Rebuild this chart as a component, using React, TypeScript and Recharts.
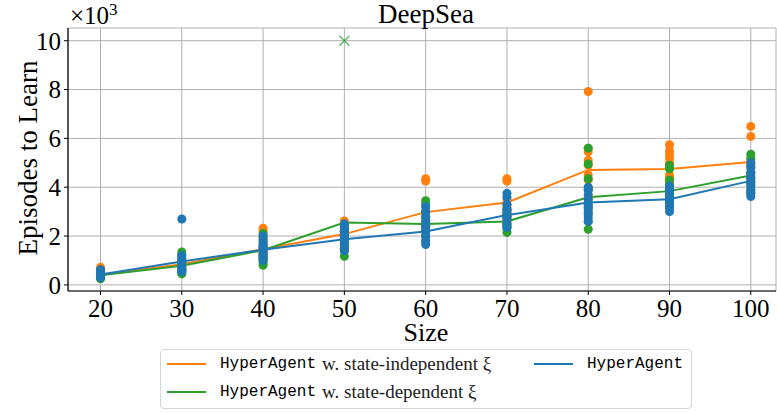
import { ComposedChart, Scatter, Line, XAxis, YAxis, CartesianGrid } from "recharts";

// DeepSea: episodes to learn (in thousands) vs. chain size
const sizes = [20, 30, 40, 50, 60, 70, 80, 90, 100];
const xTicks = [20, 30, 40, 50, 60, 70, 80, 90, 100];
const yTicks = [0, 2, 4, 6, 8, 10];

// mean curves
const indepMean = [0.42, 0.85, 1.46, 2.08, 2.98, 3.37, 4.71, 4.75, 5.03];
const depMean = [0.39, 0.78, 1.42, 2.55, 2.49, 2.6, 3.59, 3.84, 4.48];
const hyperMean = [0.43, 0.96, 1.44, 1.87, 2.19, 2.86, 3.37, 3.51, 4.26];

// individual seeds, one row per size
const indepRuns = [
  [0.72, 0.62, 0.52, 0.46, 0.4, 0.35, 0.3, 0.5, 0.42, 0.38],
  [1.1, 1.0, 0.92, 0.85, 0.8, 0.75, 0.7, 0.65, 0.9, 0.82],
  [2.32, 2.2, 1.9, 1.7, 1.5, 1.4, 1.3, 1.2, 1.6, 1.1],
  [2.62, 2.5, 2.3, 2.1, 1.9, 1.7, 1.5, 2.0, 2.2, 1.6],
  [4.35, 4.25, 2.8, 2.6, 2.4, 3.0, 2.2, 2.0, 2.5, 2.7],
  [4.35, 4.25, 3.5, 3.2, 3.0, 2.8, 3.3, 2.6, 3.1, 2.9],
  [7.92, 5.6, 5.45, 5.1, 4.3, 4.9, 3.6, 3.9, 4.5, 4.0],
  [5.74, 5.5, 5.35, 5.2, 4.5, 4.8, 4.4, 4.2, 4.0, 5.0],
  [6.49, 6.08, 5.15, 5.0, 4.8, 4.6, 4.4, 4.2, 3.9, 4.9],
];
const depRuns = [
  [0.25, 0.3, 0.35, 0.4, 0.45, 0.5, 0.55, 0.38, 0.42, 0.33],
  [1.35, 1.25, 0.45, 0.5, 0.6, 0.7, 0.8, 0.9, 0.65, 0.55],
  [2.1, 2.0, 1.8, 0.8, 0.9, 1.0, 1.2, 1.4, 1.6, 1.1],
  [2.45, 2.3, 1.17, 1.5, 1.8, 2.0, 2.2, 1.6, 1.4, 1.9],
  [3.45, 3.3, 3.0, 2.8, 2.6, 2.4, 2.2, 2.0, 1.8, 2.5],
  [3.1, 2.9, 2.7, 2.5, 2.4, 2.3, 2.15, 2.6, 2.8, 2.45],
  [5.6, 4.95, 4.35, 3.9, 3.5, 3.2, 2.9, 2.6, 2.28, 3.0],
  [4.9, 4.75, 4.3, 4.1, 3.9, 3.7, 3.5, 3.4, 3.3, 3.6],
  [5.35, 5.2, 4.9, 4.6, 4.4, 4.2, 3.82, 3.75, 4.1, 4.5],
];
const hyperRuns = [
  [0.3, 0.35, 0.4, 0.45, 0.5, 0.55, 0.6, 0.62, 0.42, 0.48],
  [2.7, 1.2, 1.1, 1.0, 0.9, 0.8, 0.7, 0.6, 0.55, 0.95],
  [2.0, 1.85, 1.7, 1.55, 1.4, 1.3, 1.2, 1.1, 1.0, 1.5],
  [2.5, 2.35, 2.2, 2.0, 1.85, 1.7, 1.55, 1.4, 1.9, 2.1],
  [3.2, 3.0, 2.8, 2.6, 2.4, 2.2, 2.0, 1.8, 1.65, 2.3],
  [3.75, 3.6, 3.3, 3.1, 2.9, 2.7, 2.5, 2.35, 2.8, 3.0],
  [4.0, 3.9, 3.7, 3.5, 3.3, 3.1, 2.9, 2.75, 2.6, 3.2],
  [4.05, 3.9, 3.75, 3.6, 3.45, 3.3, 3.15, 3.0, 3.5, 3.2],
  [5.0, 4.8, 4.6, 4.4, 4.2, 4.05, 3.9, 3.75, 3.62, 4.3],
];
// run that never learned (capped at 10k)
const depFailed = [{ size: 50, v: 10 }];

const ORANGE = "#ff7f0e";
const GREEN = "#2ca02c";
const BLUE = "#1f77b4";
const SERIF = "'Liberation Serif', 'DejaVu Serif', serif";
const MONO = "'Liberation Mono', 'DejaVu Sans Mono', monospace";

const toPoints = (runs: number[][]) =>
  sizes.flatMap((s, i) => runs[i].map((v) => ({ size: s, v })));

const lineData = sizes.map((s, i) => ({
  size: s,
  indep: indepMean[i],
  dep: depMean[i],
  hyper: hyperMean[i],
}));

const dot = (color: string) => (p: any) => <circle cx={p.cx} cy={p.cy} r={4.5} fill={color} />;

const cross = (p: any) => (
  <g stroke={GREEN} strokeOpacity={0.8} strokeWidth={1.3}>
    <line x1={p.cx - 5} y1={p.cy - 5} x2={p.cx + 5} y2={p.cy + 5} />
    <line x1={p.cx - 5} y1={p.cy + 5} x2={p.cx + 5} y2={p.cy - 5} />
  </g>
);

const tickStyle = { fontFamily: SERIF, fontSize: 25, fill: "#000" };

function LegendItem({ color, left, top, text }: { color: string; left: number; top: number; text: string }) {
  return (
    <div style={{ position: "absolute", left, top, height: 24, display: "flex", alignItems: "center", whiteSpace: "nowrap" }}>
      <div style={{ width: 39, height: 2, background: color, marginRight: 14 }} />
      <span style={{ fontFamily: MONO, fontSize: 16 }}>HyperAgent</span>
      {text && <span style={{ fontFamily: SERIF, fontSize: 19, marginLeft: 6, color: "#222" }}>{text}</span>}
    </div>
  );
}

export default function App() {
  return (
    <div
      style={{
        position: "relative",
        width: 777,
        height: 413,
        overflow: "hidden",
        background: "#fff",
        color: "#000",
      }}
    >
      <style>{`html, body { margin: 0; padding: 0; overflow: hidden; }`}</style>
      <ComposedChart
        width={777}
        height={413}
        data={lineData}
        margin={{ top: 28, right: 1, bottom: 82, left: 8 }}
      >
        <CartesianGrid stroke="#b0b0b0" strokeWidth={1} />
        <XAxis
          dataKey="size"
          type="number"
          domain={[16, 103.1]}
          ticks={xTicks}
          allowDataOverflow
          height={40}
          tick={tickStyle}
          tickSize={4}
          tickMargin={4}
          axisLine={{ stroke: "#000", strokeWidth: 1.2 }}
          tickLine={{ stroke: "#000" }}
        />
        <XAxis
          xAxisId="top"
          orientation="top"
          type="number"
          domain={[16, 103.1]}
          height={0}
          tick={false}
          tickLine={false}
          axisLine={{ stroke: "#000", strokeWidth: 1.2 }}
        />
        <YAxis
          dataKey="v"
          type="number"
          domain={[-0.25, 10.52]}
          ticks={yTicks}
          allowDataOverflow
          width={60}
          tick={tickStyle}
          tickSize={4}
          tickMargin={3}
          axisLine={{ stroke: "#000", strokeWidth: 1.2 }}
          tickLine={{ stroke: "#000" }}
        />
        <Scatter data={toPoints(indepRuns)} shape={dot(ORANGE)} isAnimationActive={false} />
        <Scatter data={toPoints(depRuns)} shape={dot(GREEN)} isAnimationActive={false} />
        <Scatter data={toPoints(hyperRuns)} shape={dot(BLUE)} isAnimationActive={false} />
        <Scatter data={depFailed} shape={cross} isAnimationActive={false} />
        <Line type="linear" dataKey="indep" stroke={ORANGE} strokeWidth={2} dot={false} activeDot={false} isAnimationActive={false} />
        <Line type="linear" dataKey="dep" stroke={GREEN} strokeWidth={2} dot={false} activeDot={false} isAnimationActive={false} />
        <Line type="linear" dataKey="hyper" stroke={BLUE} strokeWidth={2} dot={false} activeDot={false} isAnimationActive={false} />
      </ComposedChart>

      <div style={{ position: "absolute", left: 326, width: 200, top: 1, textAlign: "center", fontFamily: SERIF, fontSize: 27, lineHeight: "27px" }}>
        DeepSea
      </div>
      <div style={{ position: "absolute", left: 70, top: 3, fontFamily: SERIF, fontSize: 25, lineHeight: "25px", whiteSpace: "nowrap" }}>
        ×10<span style={{ fontSize: 17, position: "relative", top: -9 }}>3</span>
      </div>
      <div
        style={{
          position: "absolute",
          left: 28,
          top: 158,
          transform: "translate(-50%, -50%) rotate(-90deg)",
          whiteSpace: "nowrap",
          fontFamily: SERIF,
          fontSize: 27,
          lineHeight: "30px",
        }}
      >
        Episodes to Learn
      </div>
      <div style={{ position: "absolute", left: 326, width: 200, top: 323, textAlign: "center", fontFamily: SERIF, fontSize: 26, lineHeight: "20px" }}>
        Size
      </div>

      <div
        style={{
          position: "absolute",
          left: 160,
          top: 349,
          width: 532,
          height: 60,
          border: "1px solid #d6d6d6",
          borderRadius: 4,
          background: "rgba(255,255,255,0.8)",
          boxSizing: "border-box",
        }}
      >
        <LegendItem color={ORANGE} left={6} top={2} text="w. state-independent ξ" />
        <LegendItem color={GREEN} left={6} top={30} text="w. state-dependent ξ" />
        <LegendItem color={BLUE} left={373} top={2} text="" />
      </div>
    </div>
  );
}
